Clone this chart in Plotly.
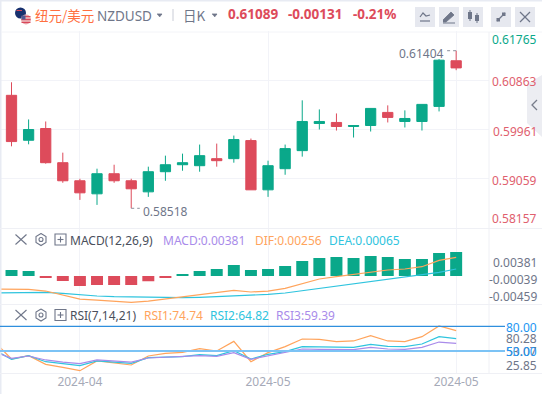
import plotly.graph_objects as go

W, H = 542, 394
days = list(range(27))
line_days = list(range(-1, 27))
opens = [.60587,.59764,.59979,.59353,.59022,.58783,.59151,.59022,.58819,.59188,.59316,.59298,.59427,.59427,.59758,.58856,.59243,.59574,.60071,.60090,.60016,.60034,.60274,.60108,.60108,.60384,.61220]
highs = [.60826,.60145,.60108,.59537,.59059,.59243,.59316,.59059,.59280,.59482,.59519,.59685,.59703,.59850,.59795,.59390,.59685,.60495,.60329,.60255,.60034,.60347,.60403,.60311,.60421,.61250,.61404]
lows = [.59653,.59690,.59335,.58985,.58672,.58580,.58985,.58518,.58727,.59022,.59206,.59188,.59280,.59353,.58856,.58727,.59132,.59464,.59961,.59942,.59814,.59924,.60090,.59998,.59942,.60292,.61047]
closes = [.59740,.59961,.59353,.59022,.58801,.59151,.59022,.58875,.59188,.59316,.59353,.59482,.59390,.59777,.58856,.59298,.59611,.60108,.60108,.60016,.60034,.60347,.60182,.60163,.60421,.61231,.61089]
macd_hist = [.00095,.00080,-.00016,-.00080,-.00159,-.00143,-.00143,-.00143,-.00085,-.00032,.00032,.00080,.00111,.00175,.00095,.00111,.00159,.00238,.00286,.00302,.00286,.00318,.00302,.00270,.00270,.00366,.00381]
dif = [-.00207,-.00207,-.00212,-.00239,-.00302,-.00366,-.00382,-.00403,-.00419,-.00398,-.00366,-.00329,-.00297,-.00270,-.00228,-.00254,-.00239,-.00196,-.00117,-.00048,-.00011,.00027,.00064,.00095,.00111,.00148,.00249,.00297]
dea = [-.00270,-.00270,-.00265,-.00260,-.00276,-.00302,-.00318,-.00329,-.00334,-.00345,-.00350,-.00345,-.00339,-.00329,-.00313,-.00302,-.00292,-.00270,-.00233,-.00196,-.00159,-.00127,-.00090,-.00048,-.00011,.00016,.00058,.00111]
rsi1 = [61.3,40.3,44.3,33.8,30.2,26.1,37.9,35.4,33.0,43.9,47.2,48.4,52.8,50.0,61.7,37.0,48.0,55.3,64.6,64.2,61.3,62.2,68.6,62.2,61.3,67.4,80.4,74.7]
rsi2 = [51.2,39.9,44.3,37.0,34.6,32.2,37.9,36.6,35.0,41.9,42.7,43.1,45.5,44.3,50.4,40.3,46.0,49.2,55.3,55.3,54.5,54.5,58.1,55.7,55.3,58.5,67.4,65.0]
rsi3 = [49.2,41.1,43.9,39.1,36.6,34.6,39.1,37.9,36.6,41.5,42.3,42.7,44.3,43.5,48.0,39.9,44.3,48.0,52.4,52.0,51.6,51.6,54.5,52.4,52.0,54.5,60.9,59.3]
date_ticks = [4, 15, 26]
date_labels = ["2024-04", "2024-05", "2024-05"]
price_grid = [.61765, .60863, .59961, .59059, .58157]

GREEN, RED, GRAY = "#0aa88a", "#dd4b5b", "#6f7689"
ORANGE, CYAN, PURPLE = "#ffa45c", "#2fc4de", "#a98bea"
GRID = "#f2f3f8"
FONT = "Noto Sans"

def px(x): return x / W
def py(y): return 1 - y / H

def dom(top, bot): return [py(bot), py(top)]

fig = go.Figure()
fig.add_trace(go.Candlestick(x=days, open=opens, high=highs, low=lows, close=closes, yaxis="y", xaxis="x",
    increasing=dict(line=dict(color=GREEN, width=1), fillcolor=GREEN),
    decreasing=dict(line=dict(color=RED, width=1), fillcolor=RED), hoverinfo="skip", showlegend=False))
fig.add_trace(go.Bar(x=days, y=macd_hist, yaxis="y2", xaxis="x2", width=0.7,
    marker=dict(color=[GREEN if v >= 0 else RED for v in macd_hist], line_width=0), showlegend=False))
fig.add_trace(go.Scatter(x=line_days, y=dea, yaxis="y2", xaxis="x2", mode="lines", line=dict(color=CYAN, width=1.2), showlegend=False))
fig.add_trace(go.Scatter(x=line_days, y=dif, yaxis="y2", xaxis="x2", mode="lines", line=dict(color=ORANGE, width=1.2), showlegend=False))
for s, c in ((rsi1, ORANGE), (rsi2, CYAN), (rsi3, PURPLE)):
    fig.add_trace(go.Scatter(x=line_days, y=s, yaxis="y3", xaxis="x3", mode="lines", line=dict(color=c, width=1.2), showlegend=False))

xr = [-0.6725, 27.92]
xbase = dict(range=xr, domain=[0, 489 / W], showgrid=True, gridcolor=GRID, gridwidth=1, zeroline=False,
             tickmode="array", tickvals=date_ticks, showline=False)
layout = dict(
    width=W, height=H, margin=dict(l=0, r=0, t=0, b=0), autosize=False,
    paper_bgcolor="white", plot_bgcolor="white", boxgap=0.4, boxgroupgap=0, bargap=0.3, hovermode=False,
    xaxis=dict(xbase, anchor="y", showticklabels=False, ticks="", rangeslider=dict(visible=False)),
    xaxis2=dict(xbase, anchor="y2", showticklabels=False, ticks="", matches="x"),
    xaxis3=dict(xbase, anchor="y3", ticktext=date_labels, ticks="", ticklen=0,
                tickfont=dict(family=FONT, size=12, color="#a6aab8"), matches="x"),
    yaxis=dict(domain=dom(31, 228), range=[.58157, .61765], tickmode="array", tickvals=price_grid, showticklabels=False,
               showgrid=True, gridcolor=GRID, zeroline=False, anchor="x"),
    yaxis2=dict(domain=dom(228, 304.5), range=[-.00453, .00763], showticklabels=False, showgrid=False, zeroline=False, anchor="x2"),
    yaxis3=dict(domain=dom(304.5, 373.3), range=[22.9, 106.5], showticklabels=False, showgrid=False, zeroline=False, anchor="x3"),
)
fig.update_layout(**layout)

shapes, ann = [], []

def P(path, color="#6f7689", width=1.2, fill=None):
    d = dict(type="path", xref="paper", yref="paper", path=path_str(path), line=dict(color=color, width=width), layer="above")
    if fill: d["fillcolor"] = fill
    shapes.append(d)

def path_str(pts):
    out = []
    for cmd, x, y in pts:
        out.append(f"{cmd}{px(x):.5f},{py(y):.5f}")
    return " ".join(out)

def line(x0, y0, x1, y1, color, width=1):
    shapes.append(dict(type="line", xref="paper", yref="paper", x0=px(x0), x1=px(x1), y0=py(y0), y1=py(y1),
                       line=dict(color=color, width=width), layer="above"))

def rect(x0, y0, x1, y1, fill, lc=None, lw=0, layer="above"):
    shapes.append(dict(type="rect", xref="paper", yref="paper", x0=px(x0), x1=px(x1), y0=py(y0), y1=py(y1),
                       fillcolor=fill, line=dict(color=lc or fill, width=lw), layer=layer))

def circle(cx, cy, r, fill, lc=None, lw=0):
    shapes.append(dict(type="circle", xref="paper", yref="paper", x0=px(cx - r), x1=px(cx + r), y0=py(cy + r), y1=py(cy - r),
                       fillcolor=fill, line=dict(color=lc or fill, width=lw), layer="above"))

def text(x, y, s, color, size=12, anchor="left", family=FONT, bold=False):
    ann.append(dict(xref="paper", yref="paper", x=px(x), y=py(y), text=f"<b>{s}</b>" if bold else s, showarrow=False,
                    xanchor=anchor, yanchor="middle", font=dict(family=family, size=size, color=color),
                    borderpad=0, borderwidth=0))

def poly(pts, color, width=1.2, fill=None):
    P([("M" if i == 0 else "L", x, y) for i, (x, y) in enumerate(pts)], color, width, fill)

# frame and rules
rect(0, 0, W, 1.5, "#e8ebf3")
rect(0, 0, 1.5, H, "#e8ebf3")
line(1.5, 32, W, 32, "#f3f4f8", 1)
line(489, 32, 489, 373, "#eff0f5", 1)
line(0, 228.5, W, 228.5, "#eff0f5", 1)
line(0, 304.5, W, 304.5, "#eff0f5", 1)
line(0, 373.5, W, 373.5, "#eff0f5", 1)
shapes.append(dict(type="path", xref="paper", yref="paper", layer="below", fillcolor="#ecedf2", line=dict(width=0),
                   path=path_str([("M", 527, 84), ("L", 542, 75), ("L", 542, 137), ("L", 527, 123)]) + " Z"))
poly([(537, 100), (532, 105), (537, 110)], "#777c8a", 1.3)

# flag
circle(20.5, 13, 5.5, "#17306e")
rect(16.5, 10, 22, 11, "#d9485a")
circle(26, 19.5, 5, "#e8a5ab")
for yy in (16.5, 19.5, 22.5):
    line(21.5, yy, 30.5, yy, "#d9485a", 1)
rect(21.5, 15.5, 25.5, 19.5, "#4e5a94")

# header text
text(35, 15, "纽元/美元", "#ff6f40", 13.5, family="Noto Sans CJK SC")
text(97, 16, "NZDUSD", GRAY, 13.5)
poly([(157, 14), (162, 14), (159.5, 17)], GRAY, 0.8, GRAY)
line(173, 9, 173, 21, "#c9ccd6", 1)
text(183, 14.5, "日K", GRAY, 13.5, family="Noto Sans CJK SC")
poly([(212, 14), (217, 14), (214.5, 17)], GRAY, 0.8, GRAY)
text(228, 14, "0.61089", RED, 13.5, bold=True)
text(288, 14, "-0.00131", RED, 13.5, bold=True)
text(353, 14, "-0.21%", RED, 13.5, bold=True)

# toolbar buttons
for x0 in (415, 439, 463, 491, 515):
    shapes.append(dict(type="rect", xref="paper", yref="paper", x0=px(x0), x1=px(x0 + 20), y0=py(27), y1=py(7),
                       fillcolor="#e6e8ef", line=dict(color="#e6e8ef", width=0), layer="below"))
poly([(420, 17), (423, 13), (426, 16), (430, 15)], GRAY, 1.2)
line(420, 21, 430, 21, GRAY, 1.2)
poly([(443, 20), (451, 12), (454, 15), (446, 22), (443, 22)], GRAY, 0.8, GRAY)
line(443, 23, 455, 23, GRAY, 1)
rect(468, 12, 472, 19, GRAY); line(470, 10, 470, 21, GRAY, 1)
rect(475, 15, 479, 21, GRAY); line(477, 13, 477, 23, GRAY, 1)
line(497, 21, 505, 13, GRAY, 1.2); rect(502, 12.5, 505.5, 16, GRAY); rect(496.5, 18, 500, 21.5, GRAY)
line(520, 12, 530, 22, GRAY, 1.2); line(530, 12, 520, 22, GRAY, 1.2)

# panel headers
def panel_icons(y):
    line(15.5, y - 5, 26.5, y + 5, GRAY, 1.1); line(26.5, y - 5, 15.5, y + 5, GRAY, 1.1)
    poly([(41, y - 6), (46, y - 3), (46, y + 3), (41, y + 6), (36, y + 3), (36, y - 3), (41, y - 6)], GRAY, 1.1)
    circle(41, y, 2, "white", GRAY, 1.1)
    rect(55, y - 5.5, 66, y + 5.5, "white", GRAY, 1.1)
    line(57.5, y, 63.5, y, GRAY, 1.1); line(60.5, y - 3, 60.5, y + 3, GRAY, 1.1)

panel_icons(239.5)
text(70, 240, "MACD(12,26,9)", "#4a4f5c", 12)
text(163, 240, "MACD:0.00381", PURPLE, 12)
text(255, 240, "DIF:0.00256", ORANGE, 12)
text(329, 240, "DEA:0.00065", CYAN, 12)
panel_icons(315)
text(70, 315.5, "RSI(7,14,21)", "#4a4f5c", 12)
text(144, 315.5, "RSI1:74.74", ORANGE, 12)
text(210, 315.5, "RSI2:64.82", CYAN, 12)
text(276, 315.5, "RSI3:59.39", PURPLE, 12)

# right axis labels
text(537, 39, "0.61765", GREEN, 12, "right")
text(537, 81, "0.60863", "#e0606e", 12, "right")
text(537, 131, "0.59961", "#e0606e", 12, "right")
text(537, 180, "0.59059", "#e0606e", 12, "right")
text(537, 218, "0.58157", "#e0606e", 12, "right")
text(537, 262, "0.00381", GRAY, 12, "right")
text(537, 279, "-0.00039", GRAY, 12, "right")
text(537, 296, "-0.00459", GRAY, 12, "right")
text(537, 338, "80.28", GRAY, 12, "right")
text(537, 351, "53.07", GRAY, 12, "right")
text(537, 365, "25.85", GRAY, 12, "right")
text(537, 327, "80.00", "#2196f3", 12, "right")
text(537, 351, "50.00", "#2196f3", 12, "right")

# RSI reference lines
shapes.append(dict(type="line", xref="paper", yref="y3", x0=0, x1=505 / W, y0=80, y1=80, line=dict(color="#2f8fdd", width=1.2), layer="above"))
shapes.append(dict(type="line", xref="paper", yref="y3", x0=0, x1=505 / W, y0=50, y1=50, line=dict(color="#7cc3f5", width=1.8), layer="above"))

# high / low markers
shapes.append(dict(type="line", xref="x", yref="y", x0=25.47, x1=26, y0=max(highs), y1=max(highs), line=dict(color="#8a8f9c", width=1, dash="dot"), layer="above"))
shapes.append(dict(type="line", xref="x", yref="y", x0=7, x1=7.5, y0=min(lows), y1=min(lows), line=dict(color="#8a8f9c", width=1, dash="dot"), layer="above"))
ann.append(dict(xref="x", yref="y", x=25.4, y=max(highs), yshift=-2.5, text=f"{max(highs):.5f}", showarrow=False, xanchor="right", yanchor="middle",
                font=dict(family=FONT, size=12, color=GRAY)))
ann.append(dict(xref="x", yref="y", x=7.6, y=min(lows), yshift=-3, text=f"{min(lows):.5f}", showarrow=False, xanchor="left", yanchor="middle",
                font=dict(family=FONT, size=12, color=GRAY)))

fig.update_layout(shapes=shapes, annotations=ann)
fig.write_html("out.html", config={"displayModeBar": False},
               post_script="document.body.style.margin='0';document.body.style.overflow='hidden';")
